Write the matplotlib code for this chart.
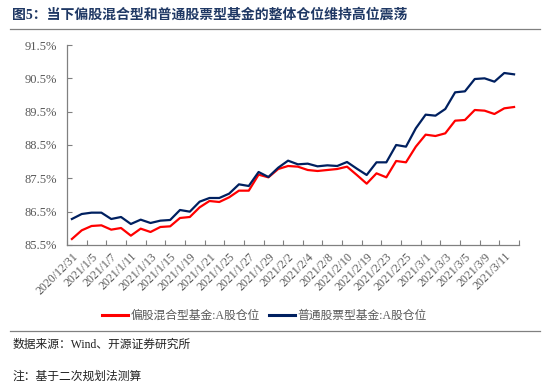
import matplotlib
matplotlib.use("Agg")
import matplotlib.pyplot as plt
from matplotlib.lines import Line2D

plt.rcParams['font.family'] = ['Liberation Serif', 'Noto Sans CJK SC']

# trading days shown on the chart
dates = ["2020/12/31", "2021/1/4", "2021/1/5", "2021/1/6", "2021/1/7", "2021/1/8",
         "2021/1/11", "2021/1/12", "2021/1/13", "2021/1/14", "2021/1/15", "2021/1/18",
         "2021/1/19", "2021/1/20", "2021/1/21", "2021/1/22", "2021/1/25", "2021/1/26",
         "2021/1/27", "2021/1/28", "2021/1/29", "2021/2/1", "2021/2/2", "2021/2/3",
         "2021/2/4", "2021/2/5", "2021/2/8", "2021/2/9", "2021/2/10", "2021/2/18",
         "2021/2/19", "2021/2/22", "2021/2/23", "2021/2/24", "2021/2/25", "2021/2/26",
         "2021/3/1", "2021/3/2", "2021/3/3", "2021/3/4", "2021/3/5", "2021/3/8",
         "2021/3/9", "2021/3/10", "2021/3/11", "2021/3/12"]

# 偏股混合型基金:A股仓位 (%)
hybrid = [85.68, 85.94, 86.07, 86.09, 85.96, 86.01, 85.78, 85.99, 85.89, 86.04,
          86.06, 86.31, 86.34, 86.63, 86.82, 86.79, 86.93, 87.13, 87.13, 87.61,
          87.53, 87.78, 87.87, 87.85, 87.75, 87.72, 87.75, 87.78, 87.85, 87.60,
          87.34, 87.65, 87.53, 88.02, 87.98, 88.45, 88.81, 88.77, 88.85, 89.23,
          89.25, 89.55, 89.53, 89.43, 89.60, 89.64]

# 普通股票型基金:A股仓位 (%)
stock = [86.28, 86.43, 86.47, 86.47, 86.28, 86.34, 86.13, 86.26, 86.16, 86.23,
         86.25, 86.55, 86.50, 86.80, 86.91, 86.91, 87.04, 87.32, 87.27, 87.69,
         87.54, 87.82, 88.03, 87.92, 87.94, 87.86, 87.89, 87.87, 87.99, 87.79,
         87.60, 87.98, 87.98, 88.50, 88.45, 89.00, 89.41, 89.38, 89.58, 90.08,
         90.11, 90.48, 90.50, 90.40, 90.66, 90.62]

yticks = [85.5, 86.5, 87.5, 88.5, 89.5, 90.5, 91.5]

red = "#FF0000"
navy = "#002060"
gray = "#595959"

fig = plt.figure(figsize=(5.5, 3.84), dpi=100)
ax = fig.add_axes([0.1218, 0.362, 0.8218, 0.5208])

x = list(range(len(dates)))
ax.plot(x, hybrid, color=red, lw=1.6, solid_joinstyle="round")
ax.plot(x, stock, color=navy, lw=1.6, solid_joinstyle="round")

ax.set_xlim(-0.5, len(dates) - 0.5)
ax.set_ylim(85.5, 91.5)
ax.set_yticks(yticks)
ax.set_yticklabels([f"{v:.1f}%" for v in yticks], fontsize=9, color=gray)

# tick marks between categories, labels on every other day
ax.set_xticks([i - 0.5 for i in range(0, len(dates) + 1, 2)])
ax.set_xticklabels([])
ax.set_xticks(x[::2], minor=True)
ax.set_xticklabels(dates[::2], minor=True, rotation=45, ha="right", va="top",
                   rotation_mode="anchor", fontsize=8.5, color=gray)
ax.tick_params(axis="x", which="major", direction="in", length=3.5, color="#808080")
ax.tick_params(axis="x", which="minor", length=0, pad=4)
ax.tick_params(axis="y", direction="in", length=3.5, color="#808080", pad=7)

for s in ["top", "right"]:
    ax.spines[s].set_visible(False)
for s in ["left", "bottom"]:
    ax.spines[s].set_color("#808080")
    ax.spines[s].set_linewidth(0.9)

# title and rules
fig.text(0.022, 0.962, "图5：当下偏股混合型和普通股票型基金的整体仓位维持高位震荡",
         fontsize=10, fontweight="bold", color="#1F3864", va="center", ha="left")
fig.add_artist(Line2D([0.018, 0.982], [0.9245, 0.9245], color="#808080", lw=0.9))
fig.add_artist(Line2D([0.018, 0.982], [0.138, 0.138], color="#808080", lw=0.9))

handles = [Line2D([], [], color=red, lw=2.2), Line2D([], [], color=navy, lw=2.2)]
fig.legend(handles, ["偏股混合型基金:A股仓位", "普通股票型基金:A股仓位"],
           loc="center", bbox_to_anchor=(0.481, 0.177), ncol=2, frameon=False,
           fontsize=8.5, handlelength=2.2, handletextpad=0.2, columnspacing=0.8,
           labelcolor=gray)

fig.text(0.022, 0.1016, "数据来源：Wind、开源证券研究所", fontsize=8.5, color="#222222",
         va="center", ha="left")
fig.text(0.022, 0.018, "注：基于二次规划法测算", fontsize=8.5, color="#222222",
         va="center", ha="left")

fig.savefig("out.png", dpi=100)
